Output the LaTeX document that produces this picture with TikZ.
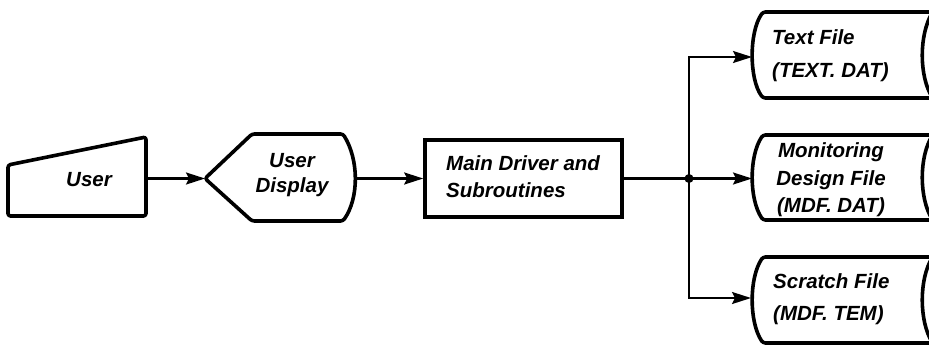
\documentclass[tikz,border=0pt]{standalone}
\usepackage{fontspec}
\setmainfont{Liberation Sans}
\usetikzlibrary{arrows.meta}
\begin{document}
\begin{tikzpicture}[x=1pt,y=-1pt,
  shapeline/.style={line width=3.6pt, line join=round, rounded corners=2.5pt},
  conn/.style={line width=2.2pt},
  arr/.style={conn,-{Stealth[length=19pt,width=12pt,inset=3pt]}},
  lbl/.style={font=\fontsize{20.5}{27}\selectfont\bfseries\itshape, inner sep=0pt}]
\useasboundingbox (0,0) rectangle (929,346);
\begin{scope}
\clip (0,0) rectangle (929,346);
% coordinates
\coordinate (userOut) at (146,178.5);
\coordinate (dispIn) at (205,178.5);
\coordinate (dispOut) at (356,178.5);
\coordinate (junc) at (689,178.5);
\coordinate (txtIn) at (752,57);
\coordinate (monIn) at (752,178.5);
\coordinate (scrIn) at (751,298);
% User (manual input)
\draw[shapeline] (8,165) -- (146,137) -- (146,216) -- (8,216) -- cycle;
\node[lbl] (user) at (89,180) {User};
% User Display
\draw[shapeline] (dispIn) -- (252,134) -- (343,134) .. controls (359,160) and (359,198) .. (343,221) -- (252,221) -- cycle;
\node[lbl, align=center, font=\fontsize{20.5}{25}\selectfont\bfseries\itshape] (disp) at (292,175) {User\\Display};
% Main driver
\node[draw, line width=3.6pt, minimum width=197pt, minimum height=77pt, inner sep=0pt] (main) at (523.5,178.5) {};
\node[lbl, align=left, anchor=west] (mainText) at (446,177) {Main Driver and\\Subroutines};
% Storage shapes
\draw[shapeline] (935,12) -- (763,12) .. controls (749,32) and (749,79) .. (763,98) -- (935,98);
\draw[line width=3.6pt] (932,13) .. controls (919,35) and (919,76) .. (932,97);
\node[lbl, align=left, anchor=west, font=\fontsize{20.5}{33}\selectfont\bfseries\itshape] (txt) at (772,56) {Text File\\(TEXT. DAT)};
\draw[shapeline] (935,135) -- (763,135) .. controls (749,156) and (749,199) .. (763,220) -- (935,220);
\draw[line width=3.6pt] (932,136) .. controls (919,157) and (919,198) .. (932,219);
\node[lbl, align=center, font=\fontsize{20.5}{27.5}\selectfont\bfseries\itshape] (mon) at (831,180) {Monitoring\\Design File\\(MDF. DAT)};
\draw[shapeline] (935,257) -- (763,257) .. controls (749,278) and (749,322) .. (763,343) -- (935,343);
\draw[line width=3.6pt] (932,258) .. controls (919,279) and (919,321) .. (932,342);
\node[lbl, align=left, anchor=west, font=\fontsize{20.5}{32}\selectfont\bfseries\itshape] (scr) at (773,299) {Scratch File\\(MDF. TEM)};
% connectors
\draw[arr] (userOut) -- (dispIn);
\draw[arr] (dispOut) -- (main.west);
\draw[conn] (main.east) -- (junc);
\fill (junc) circle (4.5pt);
\draw[arr] (junc) |- (txtIn);
\draw[arr] (junc) -- (monIn);
\draw[arr] (junc) |- (scrIn);
\end{scope}
\end{tikzpicture}
\end{document}
